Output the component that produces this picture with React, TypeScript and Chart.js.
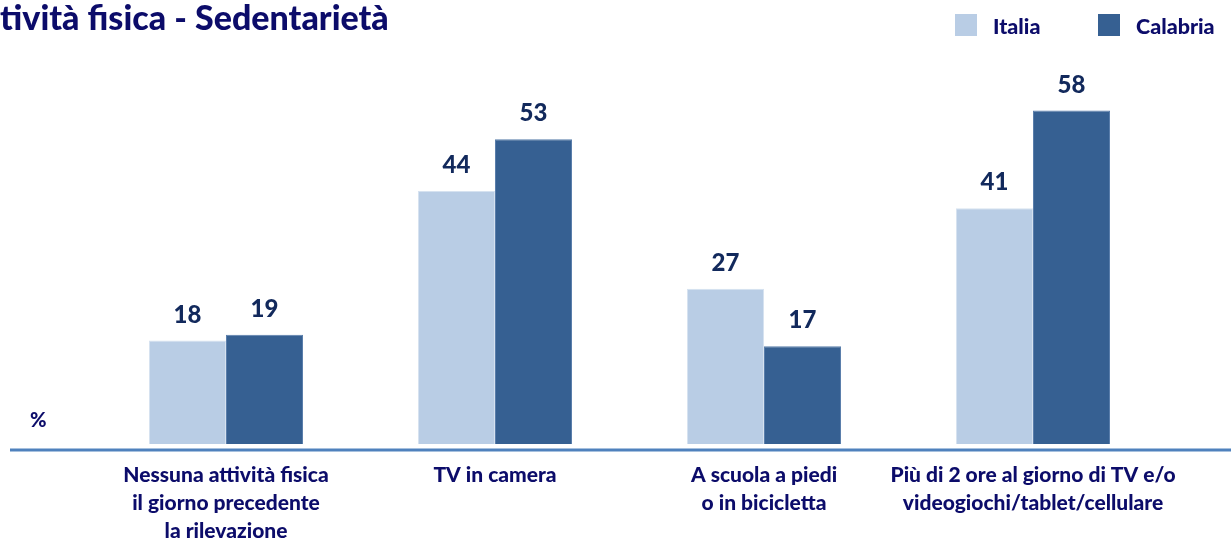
import React, { useEffect, useRef } from "react";
import { Chart, registerables } from "chart.js";

Chart.register(...registerables);

const TITLE = "tività fisica - Sedentarietà";
const UNIT = "%";
const CATEGORIES: string[][] = [
  ["Nessuna attività fisica", "il giorno precedente", "la rilevazione"],
  ["TV in camera"],
  ["A scuola a piedi", "o in bicicletta"],
  ["Più di 2 ore al giorno di TV e/o", "videogiochi/tablet/cellulare"],
];
const SERIES_NAMES = ["Italia", "Calabria"];
const ITALIA = [18, 44, 27, 41];
const CALABRIA = [19, 53, 17, 58];

const FONT = "Lato, 'Open Sans', sans-serif";
const TEXT_COLOR = "#0c0c6a";
const VALUE_COLOR = "#12295c";
const LIGHT = "#b9cde5";
const DARK = "#366092";

const decor = {
  id: "decor",
  afterDraw(chart: any) {
    const ctx = chart.ctx as CanvasRenderingContext2D;
    const area = chart.chartArea;
    ctx.save();
    // baseline axis line
    ctx.strokeStyle = "#4f81bd";
    ctx.lineWidth = 3;
    ctx.beginPath();
    ctx.moveTo(10, area.bottom + 6);
    ctx.lineTo(chart.width, area.bottom + 6);
    ctx.stroke();

    // value labels
    ctx.font = `900 24px ${FONT}`;
    ctx.fillStyle = VALUE_COLOR;
    ctx.textAlign = "center";
    ctx.textBaseline = "alphabetic";
    chart.data.datasets.forEach((ds: any, i: number) => {
      const meta = chart.getDatasetMeta(i);
      meta.data.forEach((el: any, j: number) => {
        ctx.fillText(String(ds.data[j]), el.x, el.y - 18);
      });
    });

    // title
    ctx.textAlign = "left";
    ctx.fillStyle = TEXT_COLOR;
    ctx.font = `900 34px ${FONT}`;
    ctx.fillText(TITLE, 0, 30);

    // unit
    ctx.font = `900 20px ${FONT}`;
    ctx.fillText(UNIT, 30, 427);

    // legend
    const legendX = [955, 1098];
    ctx.font = `900 21.5px ${FONT}`;
    chart.data.datasets.forEach((ds: any, i: number) => {
      const x = legendX[i];
      ctx.fillStyle = ds.backgroundColor;
      ctx.fillRect(x, 14, 22, 22);
      ctx.fillStyle = TEXT_COLOR;
      ctx.fillText(ds.label, x + 38, 34);
    });
    ctx.restore();
  },
};

export default function App() {
  const ref = useRef<HTMLCanvasElement>(null);
  useEffect(() => {
    if (!ref.current) return;
    const chart = new Chart(ref.current, {
      type: "bar",
      data: {
        labels: CATEGORIES,
        datasets: [
          {
            label: SERIES_NAMES[0],
            data: ITALIA,
            backgroundColor: LIGHT,
            borderColor: "#d6e2f0",
            borderWidth: 1,
          },
          {
            label: SERIES_NAMES[1],
            data: CALABRIA,
            backgroundColor: DARK,
            borderColor: "#5a7eab",
            borderWidth: 1,
          },
        ],
      },
      options: {
        responsive: false,
        animation: false,
        datasets: { bar: { barPercentage: 1, categoryPercentage: 0.5725 } },
        layout: { padding: { left: 91.5, right: 63.5, top: 30, bottom: 0 } },
        plugins: {
          legend: { display: false },
          title: { display: false },
          tooltip: { enabled: false },
        },
        scales: {
          x: {
            grid: { display: false, drawTicks: false },
            border: { display: false },
            ticks: {
              color: TEXT_COLOR,
              font: { family: FONT, size: 21, weight: "900", lineHeight: 1.33 },
              padding: 17,
              maxRotation: 0,
              autoSkip: false,
            },
            afterFit: (scale: any) => {
              scale.height = 96;
            },
          },
          y: {
            display: false,
            min: 0,
            max: 72,
          },
        },
      },
      plugins: [decor],
    });
    return () => chart.destroy();
  }, []);
  return (
    <div style={{ position: "fixed", left: 0, top: 0, width: 1231, height: 540, background: "#fff" }}>
      <canvas ref={ref} width={1231} height={540} style={{ display: "block" }} />
    </div>
  );
}
